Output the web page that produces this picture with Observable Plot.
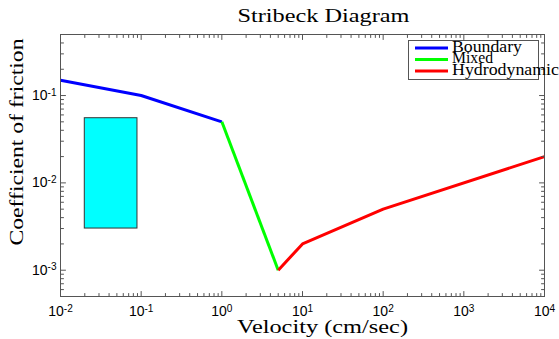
<!DOCTYPE html>
<html><head><meta charset="utf-8">
<script src="https://cdn.jsdelivr.net/npm/d3@7"></script>
<script src="https://cdn.jsdelivr.net/npm/@observablehq/plot@0.6"></script>
<style>
body{margin:0;background:#fff}
#chart{position:relative;width:559px;height:339px;overflow:hidden}
</style>
</head><body><div id="chart"></div>
<script>
// ---- data ----
const titleText = "Stribeck Diagram";
const xLabel = "Velocity (cm/sec)";
const yLabel = "Coefficient of friction";
const seriesNames = ["Boundary", "Mixed", "Hydrodynamic"];
const seriesColors = ["#0000ff", "#00ff00", "#ff0000"];
const boundaryX = [0.01, 0.1, 1];
const boundaryY = [0.15, 0.1, 0.05];
const mixedX = [1, 5];
const mixedY = [0.05, 0.001];
const hydroX = [5, 10, 100, 10000];
const hydroY = [0.001, 0.002, 0.005, 0.02];
const boxX = [0.02, 0.09];
const boxY = [0.003, 0.055];
const xTicks = [1e-2, 1e-1, 1e0, 1e1, 1e2, 1e3, 1e4];
const xTickLabels = ["10^-2", "10^-1", "10^0", "10^1", "10^2", "10^3", "10^4"];
const yTicks = [1e-3, 1e-2, 1e-1];
const yTickLabels = ["10^-3", "10^-2", "10^-1"];
const xDomain = [1e-2, 1e4];
const yDomain = [5e-4, 0.5];

// ---- build ----
const toRows = (xs, ys, name) => xs.map((x, i) => ({x, y: ys[i], name}));
const series = [
  toRows(boundaryX, boundaryY, seriesNames[0]),
  toRows(mixedX, mixedY, seriesNames[1]),
  toRows(hydroX, hydroY, seriesNames[2])
];
const box = [{x1: boxX[0], x2: boxX[1], y1: boxY[0], y2: boxY[1]}];

function minorTicks([lo, hi]) {
  const out = [];
  for (let k = Math.floor(Math.log10(lo)); k <= Math.ceil(Math.log10(hi)); k++) {
    for (let m = 2; m <= 9; m++) {
      const v = m * Math.pow(10, k);
      if (v >= lo * 0.999 && v <= hi * 1.001) out.push(v);
    }
  }
  return out;
}
const xMinor = minorTicks(xDomain);
const yMinor = minorTicks(yDomain);
const tickShape = {draw(context, l) { context.moveTo(0, 0); context.lineTo(0, -l); }};
const axisColor = "#555";
const tickMarks = (vals, len) => [
  Plot.vector(vals, {x: d => d, frameAnchor: "bottom", length: len, rotate: 0, anchor: "start", shape: tickShape, stroke: axisColor, strokeWidth: 1}),
  Plot.vector(vals, {x: d => d, frameAnchor: "top", length: len, rotate: 180, anchor: "start", shape: tickShape, stroke: axisColor, strokeWidth: 1})
];
const tickMarksY = (vals, len) => [
  Plot.vector(vals, {y: d => d, frameAnchor: "left", length: len, rotate: 90, anchor: "start", shape: tickShape, stroke: axisColor, strokeWidth: 1}),
  Plot.vector(vals, {y: d => d, frameAnchor: "right", length: len, rotate: 270, anchor: "start", shape: tickShape, stroke: axisColor, strokeWidth: 1})
];
const xFmt = new Map(xTicks.map((t, i) => [t, xTickLabels[i]]));
const yFmt = new Map(yTicks.map((t, i) => [t, yTickLabels[i]]));

const chart = Plot.plot({
  width: 559,
  height: 339,
  marginLeft: 60,
  marginRight: 15,
  marginTop: 34,
  marginBottom: 43,
  style: {background: "#fff", color: "#000", fontFamily: "'Liberation Sans', Arial, sans-serif"},
  x: {type: "log", domain: xDomain},
  y: {type: "log", domain: yDomain},
  marks: [
    Plot.rect(box, {x1: "x1", x2: "x2", y1: "y1", y2: "y2", fill: "#00ffff", stroke: "#333", strokeWidth: 1}),
    ...series.map((s, i) => Plot.line(s, {x: "x", y: "y", stroke: seriesColors[i], strokeWidth: 3, strokeLinejoin: "round", strokeLinecap: "butt"})),
    Plot.frame({stroke: axisColor, strokeWidth: 1}),
    ...tickMarks(xTicks, 5), ...tickMarks(xMinor, 3),
    ...tickMarksY(yTicks, 5), ...tickMarksY(yMinor, 3),
    Plot.axisX(xTicks, {tickSize: 0, tickPadding: 10, fontSize: 14, tickFormat: d => xFmt.get(d), label: null}),
    Plot.axisY(yTicks, {tickSize: 0, tickPadding: 4, fontSize: 14, tickFormat: d => yFmt.get(d), label: null}),
    Plot.text([titleText], {frameAnchor: "top", textAnchor: "middle", lineAnchor: "bottom", dy: -13, dx: 21, fontSize: 18, fontFamily: "'Liberation Serif', serif"}),
    Plot.text([xLabel], {frameAnchor: "bottom", textAnchor: "middle", lineAnchor: "bottom", dy: 36, dx: 20, fontSize: 18, fontFamily: "'Liberation Serif', serif"}),
    Plot.text([yLabel], {frameAnchor: "left", textAnchor: "middle", lineAnchor: "bottom", rotate: -90, dx: -38, dy: -23.5, fontSize: 18.5, fontFamily: "'Liberation Serif', serif"})
  ]
});

// superscripts on tick labels
chart.querySelectorAll("text").forEach(t => {
  const m = /^(10)\^(-?\d+)$/.exec(t.textContent);
  if (m) {
    t.textContent = m[1];
    const sp = document.createElementNS("http://www.w3.org/2000/svg", "tspan");
    sp.setAttribute("dy", "-0.42em");
    sp.setAttribute("font-size", "0.72em");
    sp.textContent = m[2];
    t.appendChild(sp);
  }
});
// stretch the serif labels to match
const stretch = {[titleText]: 172, [xLabel]: 171, [yLabel]: 207};
chart.querySelectorAll("text").forEach(t => {
  const w = stretch[t.textContent];
  if (w) { t.setAttribute("textLength", w); t.setAttribute("lengthAdjust", "spacingAndGlyphs"); }
});

const root = document.getElementById("chart");
root.appendChild(chart);

// legend overlay
const legendTextLen = [70, 41, 107];
const leg = d3.select(root).append("svg")
  .attr("width", 160).attr("height", 45)
  .style("position", "absolute").style("left", "408px").style("top", "40px").style("overflow", "visible");
leg.append("rect").attr("x", 0.5).attr("y", 0.5).attr("width", 130).attr("height", 39)
  .attr("fill", "#fff").attr("stroke", axisColor);
const rows = leg.selectAll("g").data(seriesNames).join("g")
  .attr("transform", (d, i) => `translate(0,${8 + i * 11.5})`);
rows.append("line").attr("x1", 7).attr("x2", 40).attr("y1", 0).attr("y2", 0)
  .attr("stroke", (d, i) => seriesColors[i]).attr("stroke-width", 3);
rows.append("text").attr("x", 44).attr("y", 3.5)
  .attr("font-family", "'Liberation Serif', serif").attr("font-size", 16)
  .attr("textLength", (d, i) => legendTextLen[i]).attr("lengthAdjust", "spacingAndGlyphs")
  .text(d => d);
</script>
</body></html>
